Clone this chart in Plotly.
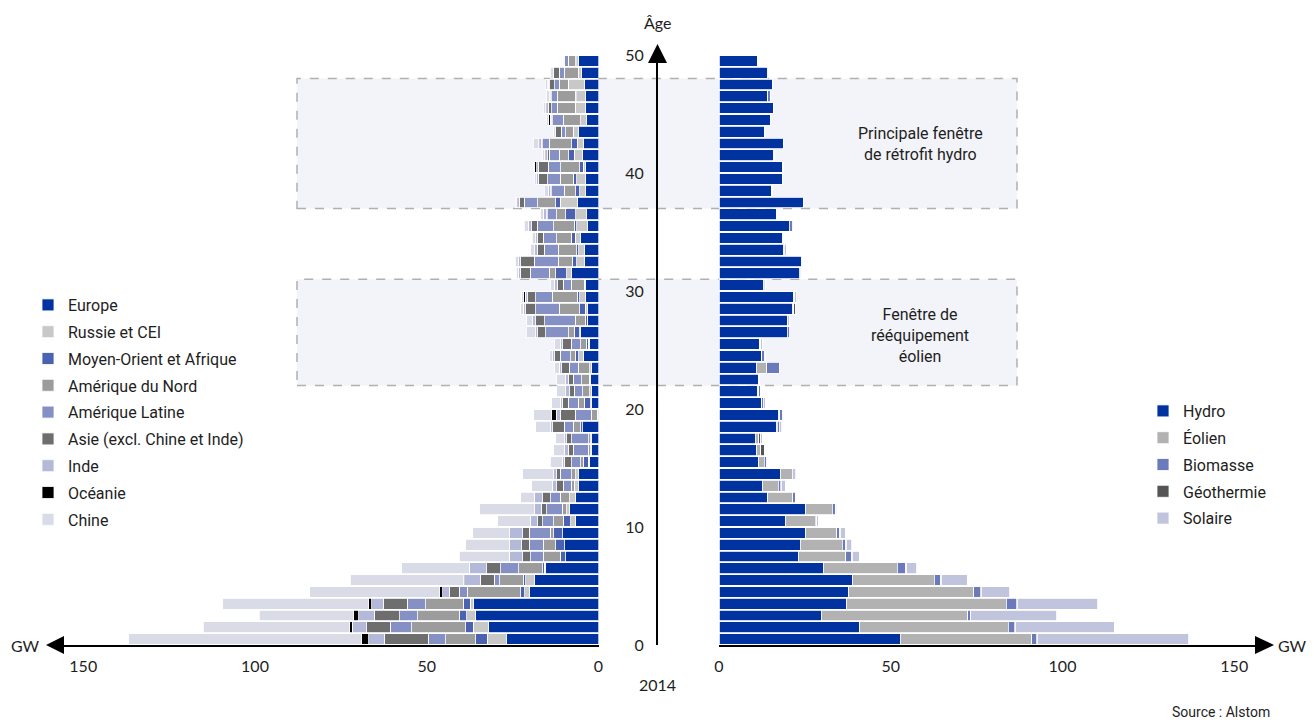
import plotly.graph_objects as go

W, H = 1314, 720

ages = list(range(50))

# ---- Left panel: by region (GW) ----
regions = ["Europe", "Russie et CEI", "Moyen-Orient et Afrique", "Amérique du Nord",
           "Amérique Latine", "Asie (excl. Chine et Inde)", "Inde", "Océanie", "Chine"]
region_colors = ["#0033a0", "#c8c8c8", "#4a62b0", "#9c9c9c", "#8591c4",
                 "#6e6e6e", "#b4b9d9", "#000000", "#d9dbe7"]

europe = [26.7, 32.1, 35.7, 36.4, 20.2, 18.5, 15.5, 9.6, 9.8, 10.4,
          6.8, 8.3, 6.8, 5.9, 5.7, 2.7, 2.0, 2.0, 4.6, 0.0,
          2.0, 2.0, 2.3, 2.0, 4.4, 2.7, 5.1, 3.3, 3.3, 3.9,
          3.9, 8.0, 4.2, 4.1, 5.2, 3.2, 3.4, 6.1, 3.7, 3.9,
          3.9, 4.7, 4.4, 5.7, 3.6, 3.7, 3.7, 4.1, 4.9, 5.7]
russie = [5.7, 4.3, 2.7, 1.0, 1.2, 2.7, 0.3, 0.0, 0.0, 0.0,
          1.3, 1.0, 1.5, 1.1, 0.9, 0.3, 0.3, 0.3, 0.0, 0.3,
          0.3, 0.5, 0.4, 0.5, 1.3, 0.3, 0.3, 0.0, 0.6, 1.5,
          0.3, 1.3, 2.2, 1.6, 1.6, 3.2, 3.2, 5.1, 1.7, 2.5,
          0.5, 2.4, 1.8, 1.6, 1.5, 3.1, 2.7, 4.5, 1.0, 0.7]
moyen_orient = [3.3, 2.2, 2.1, 2.0, 1.2, 0.7, 0.4, 1.6, 2.7, 2.6,
                2.1, 0.0, 0.0, 0.0, 0.0, 1.4, 0.0, 0.0, 0.5, 0.0,
                1.8, 0.0, 0.0, 0.0, 1.0, 0.5, 1.7, 0.6, 1.5, 0.8,
                0.0, 3.1, 1.2, 0.7, 1.2, 0.6, 3.0, 1.2, 1.2, 0.9,
                1.0, 1.5, 1.6, 0.0, 0.0, 0.0, 0.4, 0.2, 0.0, 0.2]
amerique_nord = [8.8, 15.8, 12.1, 10.9, 15.6, 6.8, 7.0, 4.9, 3.6, 1.1,
                 2.8, 1.3, 2.8, 0.9, 1.2, 0.7, 0.7, 0.5, 2.2, 1.8,
                 1.8, 2.1, 2.2, 3.4, 1.4, 1.6, 1.5, 2.9, 6.1, 7.2,
                 3.7, 2.0, 4.1, 5.3, 4.2, 6.1, 2.6, 5.3, 3.3, 3.9,
                 5.6, 2.8, 6.6, 2.3, 5.1, 5.2, 5.2, 2.6, 4.0, 2.2]
amerique_latine = [5.0, 6.3, 5.2, 5.4, 2.3, 1.7, 5.2, 3.6, 4.1, 6.0,
                   3.2, 4.5, 2.8, 2.4, 3.4, 2.7, 4.3, 5.0, 2.7, 4.7,
                   2.9, 2.5, 2.4, 2.6, 3.1, 2.9, 6.8, 8.8, 6.7, 4.8,
                   2.3, 5.5, 7.0, 4.1, 3.9, 4.7, 2.6, 3.9, 3.7, 3.6,
                   3.6, 2.9, 1.9, 1.3, 3.1, 1.6, 1.6, 1.3, 1.5, 1.2]
asie = [12.9, 6.8, 7.5, 6.9, 2.9, 4.0, 4.2, 2.4, 2.2, 2.0,
        1.5, 1.5, 2.3, 1.9, 1.0, 2.2, 1.5, 1.5, 3.3, 4.4,
        1.7, 1.2, 1.5, 2.2, 1.5, 2.4, 2.3, 2.7, 3.0, 2.4,
        1.8, 2.9, 4.0, 2.0, 1.7, 1.7, 0.3, 1.5, 0.3, 2.7,
        2.9, 0.5, 0.3, 1.5, 0.3, 1.0, 0.3, 1.5, 1.6, 0.2]
inde = [4.5, 4.2, 4.5, 3.4, 2.0, 4.6, 5.1, 3.9, 3.4, 3.7,
        2.2, 1.9, 2.5, 1.3, 0.8, 0.5, 1.2, 0.5, 0.6, 1.1,
        0.6, 1.2, 0.8, 0.8, 0.6, 0.7, 0.5, 0.9, 0.7, 0.7,
        0.9, 0.5, 0.5, 0.7, 0.5, 0.9, 1.0, 0.4, 0.8, 0.5,
        0.5, 0.5, 0.5, 0.0, 0.4, 0.4, 0.3, 0.4, 0.0, 0.3]
oceanie = [2.2, 0.8, 1.6, 1.0, 1.0, 0.4, 0.0, 0.0, 0.0, 0.0,
           0.0, 0.0, 0.0, 0.0, 0.0, 0.0, 0.0, 0.0, 0.0, 1.5,
           0.0, 0.0, 0.0, 0.0, 0.0, 0.0, 0.0, 0.0, 0.0, 0.5,
           0.0, 0.0, 0.0, 0.0, 0.0, 0.0, 0.0, 0.3, 0.0, 0.0,
           0.5, 0.4, 0.4, 0.0, 0.5, 0.4, 0.0, 0.3, 0.0, 0.0]
chine = [67.6, 42.5, 27.3, 42.4, 37.6, 32.9, 19.6, 14.6, 12.8, 10.8,
         9.4, 16.0, 3.9, 6.0, 9.1, 3.6, 3.0, 2.7, 4.3, 5.0,
         2.5, 2.7, 2.6, 1.2, 1.0, 1.7, 2.9, 1.7, 0.8, 0.6,
         1.0, 0.6, 1.1, 1.2, 1.0, 1.2, 0.9, 0.5, 1.1, 0.5,
         0.4, 0.6, 1.5, 0.7, 0.6, 0.7, 0.9, 0.6, 1.0, 0.4]
region_values = [europe, russie, moyen_orient, amerique_nord, amerique_latine,
                 asie, inde, oceanie, chine]

# ---- Right panel: by technology (GW) ----
techs = ["Hydro", "Éolien", "Biomasse", "Géothermie", "Solaire"]
tech_colors = ["#0033a0", "#b2b2b2", "#6a7aba", "#555555", "#c0c4dc"]

hydro = [52.7, 41.0, 29.7, 37.2, 37.7, 38.8, 30.4, 23.1, 23.6, 25.3,
         19.3, 25.3, 14.2, 12.6, 17.9, 11.5, 11.0, 10.5, 16.6, 17.3,
         12.4, 11.3, 11.5, 10.8, 12.4, 11.9, 19.9, 20.0, 21.3, 21.8,
         12.9, 23.4, 23.9, 18.7, 18.5, 20.5, 16.6, 24.7, 15.3, 18.5,
         18.5, 15.8, 18.9, 13.1, 15.1, 16.0, 14.2, 15.6, 14.0, 11.3]
eolien = [38.3, 43.2, 42.7, 46.4, 36.5, 23.9, 21.5, 13.8, 12.3, 9.0,
          8.7, 7.7, 7.2, 4.7, 3.4, 1.7, 1.2, 1.0, 0.4, 0.4,
          0.0, 0.3, 0.0, 3.1, 0.0, 0.0, 0.0, 0.0, 0.5, 0.3,
          0.3, 0.0, 0.0, 0.3, 0.3, 0.0, 0.0, 0.0, 0.0, 0.0,
          0.0, 0.0, 0.0, 0.0, 0.0, 0.0, 0.0, 0.0, 0.0, 0.0]
biomasse = [1.3, 1.8, 0.7, 2.9, 1.8, 1.8, 2.4, 1.7, 1.0, 0.9,
            0.4, 1.0, 0.9, 0.5, 0.0, 0.5, 0.0, 0.0, 0.6, 0.7,
            0.5, 0.5, 0.4, 3.8, 0.8, 0.3, 0.5, 0.0, 0.0, 0.0,
            0.0, 0.3, 0.0, 0.0, 0.0, 0.8, 0.0, 0.0, 0.0, 0.0,
            0.3, 0.0, 0.0, 0.0, 0.0, 0.0, 0.7, 0.0, 0.0, 0.0]
geothermie = [0.3, 0.3, 0.2, 0.3, 0.3, 0.2, 0.3, 0.2, 0.2, 0.2,
              0.0, 0.0, 0.0, 0.3, 0.0, 0.0, 0.9, 0.6, 0.0, 0.0,
              0.0, 0.0, 0.0, 0.0, 0.0, 0.0, 0.0, 0.0, 0.5, 0.0,
              0.4, 0.0, 0.0, 0.0, 0.4, 0.0, 0.0, 0.0, 0.0, 0.0,
              0.0, 0.0, 0.0, 0.0, 0.0, 0.0, 0.0, 0.0, 0.0, 0.0]
solaire = [44.2, 28.8, 25.0, 23.4, 8.4, 7.6, 2.9, 2.1, 1.5, 1.3,
           0.5, 0.3, 0.0, 1.2, 1.0, 0.3, 0.0, 0.5, 0.6, 0.3,
           0.5, 0.0, 0.3, 0.0, 0.3, 0.4, 0.5, 0.5, 0.4, 0.6,
           0.0, 0.3, 0.3, 0.6, 0.0, 0.3, 0.0, 0.0, 0.2, 0.0,
           0.0, 0.3, 0.0, 0.0, 0.0, 0.0, 0.0, 0.0, 0.3, 0.0]
tech_values = [hydro, eolien, biomasse, geothermie, solaire]

age_ticks = [0, 10, 20, 30, 40, 50]
gw_ticks = [0, 50, 100, 150]

# ---------------- figure ----------------
TXT = "#1e1e1e"
FONT_TXT = "Roboto"
FONT_NUM = "Lato"

def px(x):
    return x / W

def py(y):
    return 1 - y / H

ycent = [a + 0.5 for a in ages]

fig = go.Figure()
for name, col, vals in zip(regions, region_colors, region_values):
    fig.add_trace(go.Bar(
        x=vals, y=ycent, orientation="h", name=name, legendgroup=name,
        marker=dict(color=col, line=dict(color="white", width=0.8)),
        xaxis="x", yaxis="y", legend="legend", hoverinfo="x+name"))
for name, col, vals in zip(techs, tech_colors, tech_values):
    fig.add_trace(go.Bar(
        x=vals, y=ycent, orientation="h", name=name, legendgroup=name,
        marker=dict(color=col, line=dict(color="white", width=0.8)),
        xaxis="x2", yaxis="y", legend="legend2", hoverinfo="x+name"))

scale = 3.435  # px per GW
x0_left = 598.5
x0_right = 719.0
left_end = 63.0
right_end = 1256.0

ydom = [py(645), py(55)]

fig.update_layout(
    template="none",
    width=W, height=H,
    margin=dict(l=0, r=0, t=0, b=0, pad=0),
    paper_bgcolor="white", plot_bgcolor="rgba(0,0,0,0)",
    barmode="stack", bargap=0.1,
    font=dict(family=FONT_TXT, size=16, color=TXT),
    xaxis=dict(domain=[px(left_end), px(x0_left)],
               range=[(x0_left - left_end) / scale, 0],
               anchor="y", showgrid=False, zeroline=False,
               showline=True, linecolor="black", linewidth=2,
               tickvals=gw_ticks, ticks="", ticklabelstandoff=6,
               tickfont=dict(family=FONT_NUM, size=16, color=TXT),
               automargin=False, fixedrange=True),
    xaxis2=dict(domain=[px(x0_right), px(right_end)],
                range=[0, (right_end - x0_right) / scale],
                anchor="y", showgrid=False, zeroline=False,
                showline=True, linecolor="black", linewidth=2,
                tickvals=gw_ticks, ticks="", ticklabelstandoff=6,
                tickfont=dict(family=FONT_NUM, size=16, color=TXT),
                automargin=False, fixedrange=True),
    yaxis=dict(domain=ydom, range=[0, 50], anchor="free", position=px(657),
               showgrid=False, zeroline=False, showline=True,
               linecolor="black", linewidth=2, side="left",
               tickvals=age_ticks, ticks="", ticklabelstandoff=9,
               tickfont=dict(family=FONT_NUM, size=16, color=TXT),
               automargin=False, fixedrange=True),
    legend=dict(x=px(28), y=py(288), xanchor="left", yanchor="top",
                traceorder="grouped", tracegroupgap=3, bgcolor="rgba(0,0,0,0)",
                font=dict(family=FONT_TXT, size=16, color=TXT),
                itemclick=False, itemdoubleclick=False),
    legend2=dict(x=px(1143), y=py(394), xanchor="left", yanchor="top",
                 traceorder="grouped", tracegroupgap=3, bgcolor="rgba(0,0,0,0)",
                 font=dict(family=FONT_TXT, size=16, color=TXT),
                 itemclick=False, itemdoubleclick=False),
    showlegend=True,
)

shapes = []
# dashed highlight windows
for (a0, a1) in [(37, 48), (22, 31)]:
    shapes.append(dict(type="rect", xref="paper", yref="y",
                       x0=px(297), x1=px(1017), y0=a0, y1=a1,
                       fillcolor="#f3f4f9",
                       line=dict(color="#b0b0b0", width=1.5, dash="dash"),
                       layer="below"))
# arrowheads
def tri(pts):
    p = "M " + " L ".join(f"{px(a):.5f},{py(b):.5f}" for a, b in pts) + " Z"
    return dict(type="path", xref="paper", yref="paper", path=p,
                fillcolor="black", line=dict(width=0), layer="above")
shapes.append(tri([(46, 645), (64, 636), (64, 654)]))
shapes.append(tri([(1274, 645), (1255, 636), (1255, 654)]))
shapes.append(tri([(657.5, 44), (648, 63), (667, 63)]))
fig.update_layout(shapes=shapes)

ann = []
def text(x, y, s, size=16, family=FONT_TXT, xanchor="center"):
    ann.append(dict(x=px(x), y=py(y), xref="paper", yref="paper", text=s,
                    showarrow=False, xanchor=xanchor, yanchor="middle",
                    font=dict(family=family, size=size, color=TXT)))
text(657, 22, "Âge", family=FONT_NUM)
text(657, 684, "2014", family=FONT_NUM)
text(25, 645, "GW", family=FONT_NUM)
text(1292, 645, "GW", family=FONT_NUM)
text(1272, 712, "Source : Alstom", size=14, xanchor="right")
ann.append(dict(x=px(920), y=py(144), xref="paper", yref="paper",
                text="Principale fenêtre<br>de rétrofit hydro", showarrow=False,
                xanchor="center", yanchor="middle", align="center",
                font=dict(family=FONT_TXT, size=16, color=TXT)))
ann.append(dict(x=px(920), y=py(335), xref="paper", yref="paper",
                text="Fenêtre de<br>rééquipement<br>éolien", showarrow=False,
                xanchor="center", yanchor="middle", align="center",
                font=dict(family=FONT_TXT, size=16, color=TXT)))
fig.update_layout(annotations=ann)

fig.write_html("out.html", config={"displayModeBar": False},
               post_script="document.body.style.margin='0px';document.body.style.padding='0px';")
